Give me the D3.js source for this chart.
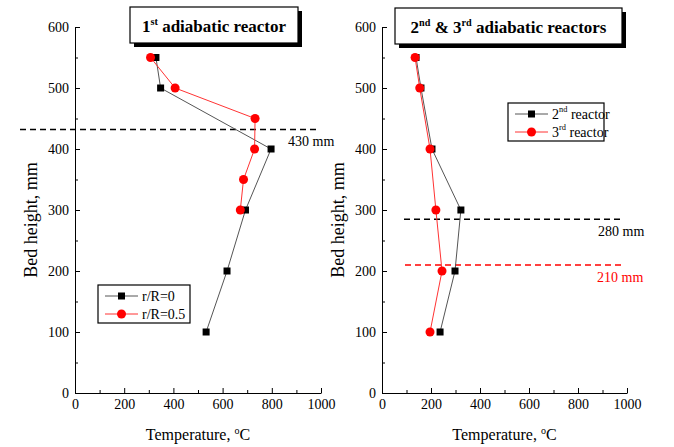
<html>
<head>
<script src="https://cdn.jsdelivr.net/npm/d3@7"></script>
<style>
  body { margin: 0; background: #fff; }
</style>
</head>
<body>
<svg id="chart" width="674" height="447" font-family="'Liberation Serif', 'Times New Roman', serif"></svg>
<script>
// bed heights (mm) and temperatures (C)
var h1Black = [550, 500, 400, 300, 200, 100];
var t1Black = [329, 348, 797, 693, 618, 533];
var h1Red = [550, 500, 450, 400, 350, 300];
var t1Red = [307, 407, 732, 730, 685, 672];

var h2Black = [550, 500, 400, 300, 200, 100];
var t2Black = [139, 159, 204, 322, 298, 237];
var h2Red = [550, 500, 400, 300, 200, 100];
var t2Red = [135, 154, 196, 220, 245, 196];

var yTicks = [0, 100, 200, 300, 400, 500, 600];
var yMinor = [50, 150, 250, 350, 450, 550];
var xTicks = [0, 200, 400, 600, 800, 1000];
var xMinor = [100, 300, 500, 700, 900];

var serif = "'Liberation Serif', 'Times New Roman', serif";
var svg = d3.select("#chart");
var fmt = d3.format("d");

function sup(t, base, s) {
  t.append("tspan").text(base);
  t.append("tspan").attr("dy", -7).attr("font-size", "0.6em").text(s);
  return t;
}

function panel(x0, x1, opt) {
  var x = d3.scaleLinear().domain([0, 1000]).range([x0, x1]);
  var y = d3.scaleLinear().domain([0, 600]).range([393, 27]);

  var g = svg.append("g");

  g.append("g").attr("transform", "translate(0,393)")
    .call(d3.axisBottom(x).tickValues(xTicks).tickFormat(fmt).tickSizeInner(-5).tickSizeOuter(0).tickPadding(6))
    .attr("font-family", serif)
    .call(a => a.selectAll("text").attr("font-size", 14).attr("fill", "#000"));
  g.append("g").attr("transform", "translate(0,393)")
    .call(d3.axisBottom(x).tickValues(xMinor).tickSizeInner(-3).tickSizeOuter(0).tickFormat(""))
    .call(a => a.select(".domain").remove());
  g.append("g").attr("transform", "translate(" + x0 + ",0)")
    .call(d3.axisLeft(y).tickValues(yTicks).tickFormat(fmt).tickSizeInner(-5).tickSizeOuter(0).tickPadding(6))
    .attr("font-family", serif)
    .call(a => a.selectAll("text").attr("font-size", 14).attr("fill", "#000"));
  g.append("g").attr("transform", "translate(" + x0 + ",0)")
    .call(d3.axisLeft(y).tickValues(yMinor).tickSizeInner(-3).tickSizeOuter(0).tickFormat(""))
    .call(a => a.select(".domain").remove());

  // axis titles
  var xt = g.append("text").attr("x", (x0 + x1) / 2).attr("y", 440)
    .attr("text-anchor", "middle").attr("font-size", 16);
  xt.append("tspan").text("Temperature, ");
  xt.append("tspan").attr("dy", -6).attr("font-size", 10).text("o");
  xt.append("tspan").attr("dy", 6).text("C");
  g.append("text").attr("transform", "translate(" + (x0 - 38) + ",220) rotate(-90)")
    .attr("text-anchor", "middle").attr("font-size", 18).text("Bed height, mm");

  // dashed reference lines
  opt.dashes.forEach(function (d) {
    g.append("line").attr("x1", d.x1).attr("x2", d.x2)
      .attr("y1", y(d.h)).attr("y2", y(d.h))
      .attr("stroke", d.color).attr("stroke-width", 1.5).attr("stroke-dasharray", "6,4");
    g.append("text").attr("x", d.lx).attr("y", y(d.h) + 17)
      .attr("font-size", 14).attr("fill", d.color).text(d.label);
  });

  var line = d3.line().x(d => x(d[0])).y(d => y(d[1]));

  opt.series.forEach(function (s) {
    var pts = d3.zip(s.t, s.h);
    g.append("path").datum(pts).attr("d", line).attr("fill", "none")
      .attr("stroke", s.line).attr("stroke-width", 1);
    if (s.shape == "sq") {
      g.selectAll(null).data(pts).enter().append("rect")
        .attr("x", d => x(d[0]) - 3.5).attr("y", d => y(d[1]) - 3.5)
        .attr("width", 7).attr("height", 7).attr("fill", "#000");
    } else {
      g.selectAll(null).data(pts).enter().append("circle")
        .attr("cx", d => x(d[0])).attr("cy", d => y(d[1])).attr("r", 4.5).attr("fill", "#f00");
    }
  });

  // title box with shadow
  var b = opt.box;
  g.append("rect").attr("x", b.x + 4).attr("y", b.y + 4).attr("width", b.w).attr("height", b.h).attr("fill", "#000");
  g.append("rect").attr("x", b.x).attr("y", b.y).attr("width", b.w).attr("height", b.h)
    .attr("fill", "#fff").attr("stroke", "#000").attr("stroke-width", 1.2);
  var tt = g.append("text").attr("x", b.x + b.w / 2).attr("y", b.y + 25)
    .attr("text-anchor", "middle").attr("font-size", 17).attr("font-weight", "bold");
  b.title(tt);

  // legend
  var L = opt.legend;
  g.append("rect").attr("x", L.x).attr("y", L.y).attr("width", L.w).attr("height", 38)
    .attr("fill", "#fff").attr("stroke", "#000").attr("stroke-width", 1.2);
  opt.series.forEach(function (s, i) {
    var cy = L.y + 11 + i * 18;
    g.append("line").attr("x1", L.x + 7).attr("x2", L.x + 40).attr("y1", cy).attr("y2", cy)
      .attr("stroke", s.line).attr("stroke-width", 1);
    if (s.shape == "sq") {
      g.append("rect").attr("x", L.x + 20).attr("y", cy - 3.5).attr("width", 7).attr("height", 7).attr("fill", "#000");
    } else {
      g.append("circle").attr("cx", L.x + 23.5).attr("cy", cy).attr("r", 4.5).attr("fill", "#f00");
    }
    var lt = g.append("text").attr("x", L.x + 44).attr("y", cy + 5).attr("font-size", 14);
    s.label(lt);
  });
}

panel(75, 321, {
  series: [
    { t: t1Black, h: h1Black, shape: "sq", line: "#555", label: t => t.text("r/R=0") },
    { t: t1Red, h: h1Red, shape: "ci", line: "#f33", label: t => t.text("r/R=0.5") }
  ],
  dashes: [{ h: 432, color: "#000", x1: 20, x2: 318, lx: 288, label: "430 mm" }],
  box: { x: 130, y: 7, w: 168, h: 36, title: t => { sup(t, "1", "st"); t.append("tspan").attr("dy", 7).text(" adiabatic reactor"); } },
  legend: { x: 98, y: 285, w: 92 }
});

panel(382, 627, {
  series: [
    { t: t2Black, h: h2Black, shape: "sq", line: "#555", label: t => { sup(t, "2", "nd"); t.append("tspan").attr("dy", 7).text(" reactor"); } },
    { t: t2Red, h: h2Red, shape: "ci", line: "#f33", label: t => { sup(t, "3", "rd"); t.append("tspan").attr("dy", 7).text(" reactor"); } }
  ],
  dashes: [
    { h: 285, color: "#000", x1: 404, x2: 623, lx: 598, label: "280 mm" },
    { h: 210, color: "#f00", x1: 405, x2: 623, lx: 597, label: "210 mm" }
  ],
  box: { x: 395, y: 8, w: 227, h: 36, title: t => {
    sup(t, "2", "nd"); t.append("tspan").attr("dy", 7).text(" & ");
    sup(t, "3", "rd"); t.append("tspan").attr("dy", 7).text(" adiabatic reactors"); } },
  legend: { x: 508, y: 103, w: 96 }
});
</script>
</body>
</html>
